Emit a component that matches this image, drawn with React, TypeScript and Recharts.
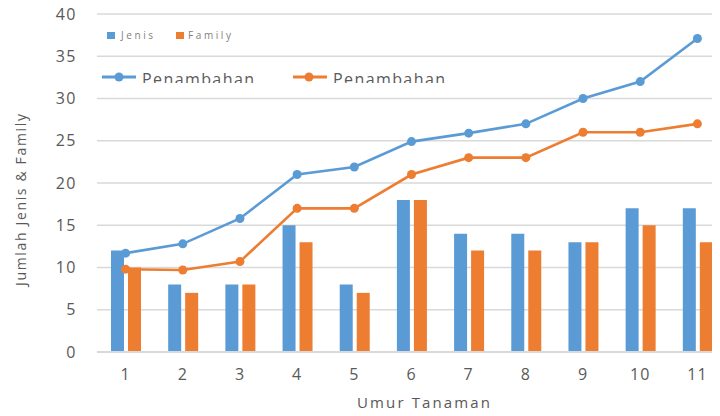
import {
  ComposedChart, Bar, Line, XAxis, YAxis, CartesianGrid, Legend,
} from "recharts";

const umur = ["1", "2", "3", "4", "5", "6", "7", "8", "9", "10", "11"];
const jenis = [12, 8, 8, 15, 8, 18, 14, 14, 13, 17, 17];
const family = [10, 7, 8, 13, 7, 18, 12, 12, 13, 15, 13];
const tambahJenis = [11.7, 12.8, 15.8, 21, 21.9, 24.9, 25.9, 27, 30, 32, 37.1];
const tambahFamily = [9.8, 9.7, 10.7, 17, 17, 21, 23, 23, 26, 26, 27];
const yTicks = [0, 5, 10, 15, 20, 25, 30, 35, 40];

const BLUE = "#5b9bd5";
const ORANGE = "#ed7d31";
const TEXT = "#595959";
const FONT = "'Open Sans', 'Noto Sans', sans-serif";

const data = umur.map((u, i) => ({
  umur: u,
  jenis: jenis[i],
  family: family[i],
  tambahJenis: tambahJenis[i],
  tambahFamily: tambahFamily[i],
}));

// legend drawn as svg so the cut-off second row can be reproduced
const renderLegend = (props: any) => {
  const payload: any[] = props.payload ?? [];
  const pick = (k: string) => payload.find(p => p.dataKey === k);
  const bars = [pick("jenis"), pick("family")].filter(Boolean);
  const lines = [pick("tambahJenis"), pick("tambahFamily")].filter(Boolean);
  return (
    <svg width={460} height={90} style={{ overflow: "visible" }}>
      <defs>
        <clipPath id="lgclip">
          <rect x={0} y={0} width={460} height={83} />
        </clipPath>
      </defs>
      {bars.map((p, i) => (
        <g key={p.dataKey}>
          <rect x={107 + i * 69} y={32} width={8} height={7} fill={p.color} />
          <text x={121 + i * 67} y={39} fontSize={10} fill="#7f7f7f" fontFamily={FONT}
            textLength={p.value === "Jenis" ? 32 : 43}>
            {p.value}
          </text>
        </g>
      ))}
      {lines.map((p, i) => (
        <g key={p.dataKey}>
          <line x1={102 + i * 191} x2={136 + i * 191} y1={77} y2={77} stroke={p.color} strokeWidth={3} />
          <circle cx={119 + i * 190} cy={77} r={4.5} fill={p.color} />
          <text x={142 + i * 191} y={85} fontSize={16} fill={TEXT} fontFamily={FONT}
            textLength={112} clipPath="url(#lgclip)">
            {p.value}
          </text>
        </g>
      ))}
    </svg>
  );
};

const YTitle = (props: any) => {
  const vb = props.viewBox;
  const cy = vb.y + vb.height / 2 + 17;
  return (
    <text x={20} y={cy} transform={`rotate(-90, 20, ${cy})`} textAnchor="middle"
      dominantBaseline="central" fontSize={14} fill={TEXT} fontFamily={FONT} textLength={172}>
      Jumlah Jenis &amp; Family
    </text>
  );
};

const XTitle = (props: any) => {
  const vb = props.viewBox;
  return (
    <text x={vb.x + vb.width / 2 + 12} y={408} textAnchor="middle" fontSize={15}
      fill={TEXT} fontFamily={FONT} textLength={133}>
      Umur Tanaman
    </text>
  );
};

export default function App() {
  return (
    <div style={{ margin: -8, width: 720, height: 416, overflow: "hidden", background: "#fff", position: "relative" }}>
      <ComposedChart
        width={730}
        height={416}
        data={data}
        margin={{ top: 14, right: 4, bottom: 0, left: 0 }}
        barGap={4}
        barCategoryGap="23%"
      >
        <CartesianGrid vertical={false} stroke="#d9d9d9" strokeWidth={1.5} />
        <XAxis
          dataKey="umur"
          height={64}
          tickSize={0}
          tickMargin={17}
          axisLine={{ stroke: "#d9d9d9", strokeWidth: 2 }}
          tick={{ fontSize: 16, fill: TEXT, fontFamily: FONT, letterSpacing: 1 }}
          label={<XTitle />}
        />
        <YAxis
          width={97}
          domain={[0, 40]}
          ticks={yTicks}
          tickSize={0}
          tickMargin={20}
          axisLine={false}
          tick={{ fontSize: 16, fill: TEXT, fontFamily: FONT, letterSpacing: 1.5 }}
          label={<YTitle />}
        />
        <Legend
          layout="horizontal"
          verticalAlign="middle"
          align="center"
          content={renderLegend}
          wrapperStyle={{ top: 0, left: 0, width: 460, height: 90 }}
        />
        <Bar dataKey="jenis" name="Jenis" fill={BLUE} barSize={13} isAnimationActive={false} />
        <Bar dataKey="family" name="Family" fill={ORANGE} barSize={13} isAnimationActive={false} />
        <Line dataKey="tambahJenis" name="Penambahan" stroke={BLUE} strokeWidth={2.6}
          dot={{ r: 4.5, fill: BLUE, stroke: BLUE, strokeWidth: 0 }} isAnimationActive={false} />
        <Line dataKey="tambahFamily" name="Penambahan" stroke={ORANGE} strokeWidth={2.6}
          dot={{ r: 4.5, fill: ORANGE, stroke: ORANGE, strokeWidth: 0 }} isAnimationActive={false} />
      </ComposedChart>
    </div>
  );
}
